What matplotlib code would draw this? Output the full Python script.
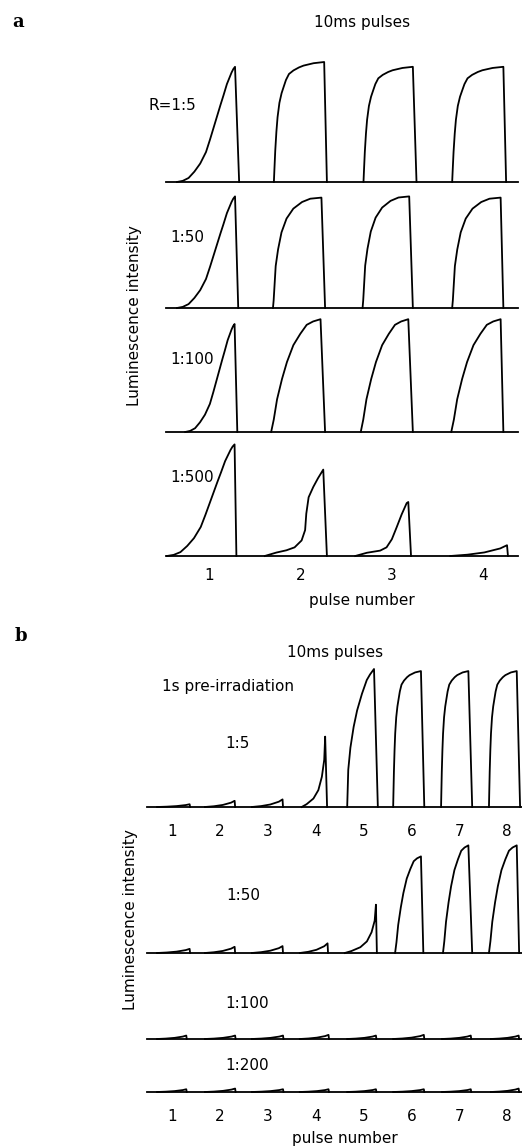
import numpy as np
import matplotlib.pyplot as plt

W, H = 522, 1148

# pulse shape templates (fraction of rise time -> fraction of peak)
sig_t = [0, 0.1, 0.2, 0.3, 0.4, 0.5, 0.57, 0.63, 0.69, 0.75, 0.8, 0.86, 0.9, 0.94, 0.97, 1.0]
sig_v = [0, 0.01, 0.035, 0.09, 0.16, 0.26, 0.37, 0.47, 0.57, 0.67, 0.75, 0.85, 0.9, 0.95, 0.98, 1.0]
sat_t = [0, 0.01, 0.027, 0.05, 0.073, 0.11, 0.153, 0.2, 0.24, 0.3, 0.39, 0.5, 0.59, 0.79, 1.0]
sat_v = [0, 0.1, 0.26, 0.42, 0.54, 0.66, 0.74, 0.8, 0.85, 0.9, 0.93, 0.955, 0.97, 0.99, 1.0]
round_t = [0, 0.014, 0.056, 0.105, 0.176, 0.28, 0.42, 0.6, 0.77, 1.0]
round_v = [0, 0.07, 0.38, 0.53, 0.685, 0.81, 0.9, 0.96, 0.99, 1.0]
lin_t = [0, 0.053, 0.12, 0.22, 0.32, 0.45, 0.59, 0.72, 0.85, 1.0]
lin_v = [0, 0.11, 0.29, 0.47, 0.62, 0.77, 0.87, 0.95, 0.98, 1.0]
bsat_t = [0, 0.04, 0.12, 0.24, 0.37, 0.55, 0.73, 0.85, 1.0]
bsat_v = [0, 0.27, 0.43, 0.58, 0.7, 0.82, 0.92, 0.96, 1.0]
knee_t = [0, 0.2, 0.37, 0.51, 0.63, 0.69, 0.71, 0.75, 0.83, 0.91, 1.0]
knee_v = [0, 0.04, 0.066, 0.10, 0.18, 0.30, 0.49, 0.68, 0.8, 0.9, 1.0]
knee2_t = [0, 0.22, 0.47, 0.59, 0.69, 0.78, 0.875, 0.97, 1.0]
knee2_v = [0, 0.06, 0.1, 0.16, 0.31, 0.53, 0.77, 0.98, 1.0]
exp_t = [0, 0.21, 0.5, 0.71, 0.86, 0.96, 1.0]
exp_v = [0, 0.04, 0.12, 0.24, 0.43, 0.67, 1.0]
ramp_t = [0, 0.3, 0.6, 0.88, 1.0]
ramp_v = [0, 0.12, 0.33, 0.7, 1.0]

shapes = {'sig': (sig_t, sig_v), 'sat': (sat_t, sat_v), 'round': (round_t, round_v),
          'lin': (lin_t, lin_v), 'bsat': (bsat_t, bsat_v), 'knee': (knee_t, knee_v),
          'knee2': (knee2_t, knee2_v), 'exp': (exp_t, exp_v), 'ramp': (ramp_t, ramp_v)}

# panel a: 4 pulses, rows R = 1:5, 1:50, 1:100, 1:500
a_labels = ['R=1:5', '1:50', '1:100', '1:500']
a1_start = [0.65, 1.71, 2.69, 3.66]
a1_top = [1.285, 2.26, 3.23, 4.22]
a1_end = [1.33, 2.29, 3.27, 4.25]
a1_peak = [0.96, 1.0, 0.96, 0.96]
a1_shape = ['sig', 'sat', 'sat', 'sat']

a2_start = [0.65, 1.70, 2.68, 3.66]
a2_top = [1.285, 2.23, 3.19, 4.19]
a2_end = [1.32, 2.27, 3.23, 4.22]
a2_peak = [0.93, 0.92, 0.93, 0.92]
a2_shape = ['sig', 'round', 'round', 'round']

a3_start = [0.74, 1.68, 2.66, 3.65]
a3_top = [1.28, 2.22, 3.18, 4.19]
a3_end = [1.31, 2.27, 3.23, 4.22]
a3_peak = [0.90, 0.94, 0.94, 0.94]
a3_shape = ['sig', 'lin', 'lin', 'lin']

a4_start = [0.54, 1.61, 2.60, 3.64]
a4_top = [1.28, 2.25, 3.18, 4.26]
a4_end = [1.30, 2.29, 3.21, 4.27]
a4_peak = [0.93, 0.72, 0.45, 0.09]
a4_shape = ['sig', 'knee', 'knee2', 'ramp']

# panel b: 8 pulses after 1 s pre-irradiation, rows 1:5, 1:50, 1:100, 1:200
b_labels = ['1:5', '1:50', '1:100', '1:200']
b1_start = [0.69, 1.69, 2.67, 3.71, 4.66, 5.62, 6.62, 7.62]
b1_top = [1.37, 2.31, 3.31, 4.20, 5.22, 6.20, 7.19, 8.20]
b1_end = [1.38, 2.32, 3.32, 4.24, 5.30, 6.27, 7.27, 8.27]
b1_peak = [0.02, 0.045, 0.055, 0.51, 1.0, 0.985, 0.985, 0.985]
b1_shape = ['ramp', 'ramp', 'ramp', 'exp', 'bsat', 'sat', 'sat', 'sat']

b2_start = [0.69, 1.69, 2.67, 3.67, 4.61, 5.66, 6.66, 7.62]
b2_top = [1.37, 2.31, 3.31, 4.25, 5.26, 6.20, 7.19, 8.20]
b2_end = [1.38, 2.32, 3.32, 4.26, 5.28, 6.25, 7.27, 8.25]
b2_peak = [0.03, 0.045, 0.05, 0.07, 0.35, 0.70, 0.78, 0.78]
b2_shape = ['ramp', 'ramp', 'ramp', 'ramp', 'exp', 'lin', 'lin', 'lin']

b3_start = [0.69, 1.69, 2.67, 3.67, 4.66, 5.62, 6.64, 7.66]
b3_top = [1.30, 2.32, 3.32, 4.27, 5.26, 6.26, 7.24, 8.24]
b3_end = [1.31, 2.33, 3.33, 4.28, 5.27, 6.27, 7.25, 8.25]
b3_peak = [0.025, 0.025, 0.025, 0.03, 0.025, 0.03, 0.025, 0.025]
b3_shape = ['ramp'] * 8

b4_start = [0.69, 1.69, 2.67, 3.67, 4.66, 5.62, 6.64, 7.66]
b4_top = [1.30, 2.32, 3.32, 4.27, 5.26, 6.26, 7.24, 8.24]
b4_end = [1.31, 2.33, 3.33, 4.28, 5.27, 6.27, 7.25, 8.25]
b4_peak = [0.02, 0.025, 0.02, 0.02, 0.02, 0.02, 0.02, 0.025]
b4_shape = ['ramp'] * 8

a_ticks = [1, 2, 3, 4]
b_ticks = [1, 2, 3, 4, 5, 6, 7, 8]

plt.rcParams['font.family'] = 'DejaVu Sans'
fig = plt.figure(figsize=(W / 100, H / 100), dpi=100)


def row_axes(x0, x1, base, h, unit, xlim):
    ax = fig.add_axes([x0 / W, 1 - base / H, (x1 - x0) / W, h / H])
    ax.set_facecolor('none')
    ax.set_xlim(*xlim)
    ax.set_ylim(0, h / unit)
    for s in ['top', 'left', 'right']:
        ax.spines[s].set_visible(False)
    ax.spines['bottom'].set_linewidth(1.3)
    ax.set_yticks([])
    ax.set_xticks([])
    return ax


def draw_row(ax, starts, tops, ends, peaks, kinds):
    for s, tp, e, pk, k in zip(starts, tops, ends, peaks, kinds):
        t, v = shapes[k]
        x = s + np.array(t) * (tp - s)
        y = np.array(v) * pk
        ax.plot(np.append(x, e), np.append(y, 0), color='black', lw=1.3,
                clip_on=False, solid_joinstyle='round')


def ftext(x, y, s, **kw):
    kw.setdefault('fontsize', 11)
    kw.setdefault('va', 'center')
    fig.text(x / W, 1 - y / H, s, **kw)


# panel a
a_rows = [(a1_start, a1_top, a1_end, a1_peak, a1_shape),
          (a2_start, a2_top, a2_end, a2_peak, a2_shape),
          (a3_start, a3_top, a3_end, a3_peak, a3_shape),
          (a4_start, a4_top, a4_end, a4_peak, a4_shape)]
a_base = [182, 308, 432, 556]
for i, (row, base) in enumerate(zip(a_rows, a_base)):
    ax = row_axes(166, 518, base, 124, 120, (0.53, 4.38))
    draw_row(ax, *row)
    if i == 3:
        ax.set_xticks(a_ticks)
        ax.tick_params(axis='x', length=0, pad=9, labelsize=11)

ftext(18, 22, 'a', fontsize=13, fontweight='bold', family='DejaVu Serif', ha='center')
ftext(362, 22, '10ms pulses', ha='center')
ftext(148, 105, a_labels[0], ha='left')
ftext(170, 238, a_labels[1], ha='left')
ftext(170, 360, a_labels[2], ha='left')
ftext(170, 478, a_labels[3], ha='left')
ftext(135, 316, 'Luminescence intensity', rotation=90, ha='center')
ftext(362, 600, 'pulse number', ha='center')

# panel b
b_rows = [(b1_start, b1_top, b1_end, b1_peak, b1_shape),
          (b2_start, b2_top, b2_end, b2_peak, b2_shape),
          (b3_start, b3_top, b3_end, b3_peak, b3_shape),
          (b4_start, b4_top, b4_end, b4_peak, b4_shape)]
b_base = [807, 953, 1039, 1092]
b_height = [146, 146, 86, 53]
for i, (row, base, h) in enumerate(zip(b_rows, b_base, b_height)):
    ax = row_axes(147, 522, base, h, 138, (0.48, 8.31))
    draw_row(ax, *row)
    if i in (0, 3):
        ax.set_xticks(b_ticks)
        ax.tick_params(axis='x', length=0, pad=12, labelsize=11)

ftext(21, 636, 'b', fontsize=13, fontweight='bold', family='DejaVu Serif', ha='center')
ftext(335, 653, '10ms pulses', ha='center')
ftext(162, 687, '1s pre-irradiation', ha='left')
ftext(225, 743, b_labels[0], ha='left')
ftext(226, 895, b_labels[1], ha='left')
ftext(225, 1004, b_labels[2], ha='left')
ftext(225, 1065, b_labels[3], ha='left')
ftext(130, 920, 'Luminescence intensity', rotation=90, ha='center')
ftext(345, 1138, 'pulse number', ha='center')

fig.savefig('out.png', dpi=100)
